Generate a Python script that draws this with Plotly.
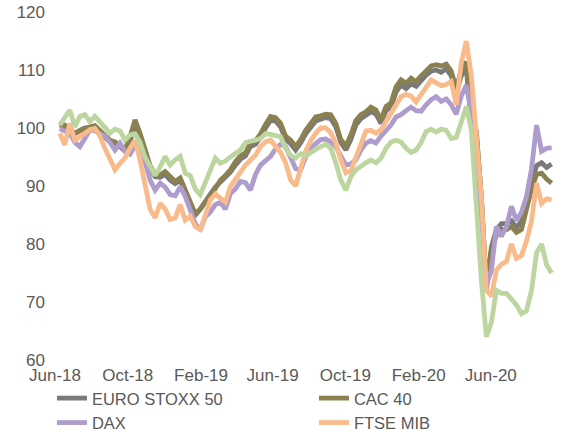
import pandas as pd
import plotly.graph_objects as go

# ---- data ----
dates = pd.date_range("2018-06-09", "2020-09-11", periods=99)

euro_stoxx_50 = [
    100.0, 100.2, 99.6, 99.0, 99.6, 100.0, 100.0, 100.0, 99.2, 98.4,
    97.6, 97.2, 96.8, 96.0, 97.8, 100.2, 98.6, 95.6, 93.0, 91.6,
    91.5, 92.0, 91.0, 90.4, 91.0, 89.0, 87.0, 85.0, 86.0, 87.5,
    88.6, 89.8, 90.6, 91.4, 92.4, 93.6, 94.6, 95.2, 96.8, 97.2,
    98.4, 100.0, 101.3, 101.2, 100.2, 98.0, 97.3, 96.2, 97.4, 99.0,
    100.0, 101.2, 101.5, 101.8, 101.6, 100.2, 97.5, 96.2, 98.0, 100.5,
    101.6, 102.1, 102.8, 102.4, 100.8, 103.0, 103.6, 106.2, 107.4, 106.8,
    107.6, 107.2, 108.2, 109.1, 109.8, 110.0, 109.6, 110.2, 109.0, 106.0,
    109.0, 110.3, 101.0, 99.0, 88.0, 72.5, 79.5, 82.5, 83.5, 83.5,
    84.0, 82.8, 84.0, 87.5, 90.5, 93.5, 94.0, 93.2, 93.8,
]
cac_40 = [
    100.2, 100.5, 99.9, 99.1, 99.5, 99.9, 100.2, 100.4, 99.6, 98.8,
    97.9, 97.6, 97.0, 96.2, 98.5, 101.4, 99.1, 96.0, 93.5, 92.0,
    91.9, 92.5, 91.5, 90.8, 91.4, 89.3, 87.2, 85.2, 86.0, 87.3,
    88.2, 89.8, 91.0, 91.8, 92.8, 94.2, 95.2, 95.7, 97.4, 97.8,
    99.0, 100.6, 102.0, 101.8, 100.8, 98.6, 97.9, 96.8, 98.0, 99.6,
    100.6, 101.9, 102.1, 102.4, 102.3, 100.8, 98.0, 96.9, 98.8, 101.3,
    102.3, 102.8, 103.6, 103.1, 101.4, 103.7, 104.3, 107.1, 108.3, 107.7,
    108.6, 108.0, 109.0, 110.0, 110.7, 110.9, 110.7, 111.0, 109.8, 106.8,
    110.0, 111.4, 101.5, 99.5, 88.2, 72.1, 79.0, 81.5, 82.5, 82.5,
    83.0, 82.0, 82.5, 86.0, 89.5, 92.0, 92.2, 91.2, 90.5,
]
dax = [
    99.9, 99.5, 99.1, 97.5, 96.8, 98.2, 99.7, 99.5, 99.1, 98.6,
    97.5, 96.2, 97.4, 96.0, 95.5, 97.0, 97.4, 94.5, 91.0, 89.3,
    90.5, 89.8, 88.5, 88.3, 89.9, 88.2, 85.9, 83.5, 82.4, 84.7,
    85.5, 86.8, 87.2, 86.0, 88.7, 89.5, 90.8, 90.6, 89.3, 92.0,
    93.6, 94.4, 95.1, 96.4, 97.2, 96.8, 95.1, 93.0, 92.8, 95.0,
    96.6, 97.4, 98.0, 98.1, 97.6, 96.8, 95.0, 93.6, 93.8, 94.5,
    96.2, 97.4, 97.8, 97.4, 98.6, 99.6, 100.5, 101.9, 102.3, 103.0,
    103.6, 103.0, 102.9, 104.0, 104.9, 105.4, 104.6, 105.0, 104.0, 102.4,
    105.5, 107.4, 102.5, 93.5, 84.7, 73.0, 75.5, 83.0, 81.3, 83.0,
    86.5, 84.0, 85.5, 88.2, 93.0, 100.5, 96.0, 96.5, 96.6,
]
ftse_mib = [
    99.1, 97.1, 100.8, 97.9, 98.5, 99.2, 99.7, 99.9, 98.6, 96.5,
    94.5, 92.8, 93.9, 94.8, 96.5, 97.9, 94.5, 90.0, 86.0, 84.5,
    87.0, 86.0, 84.2, 84.5, 86.8, 84.1, 84.8, 83.0, 82.5, 85.0,
    87.6, 88.6, 88.0, 87.2, 89.9, 91.2, 92.6, 93.6, 94.5, 95.3,
    96.8, 97.6, 97.9, 96.8, 95.8, 94.0, 91.0, 90.0, 93.0, 96.0,
    97.8, 99.1, 100.0, 100.0, 99.2, 97.4, 94.5, 92.3, 92.6, 94.8,
    97.4, 99.5, 99.6, 99.1, 99.7, 101.2, 102.6, 104.0, 105.4, 105.8,
    105.5, 104.5, 105.6, 107.0, 108.3, 107.9, 107.3, 107.5, 108.0, 104.0,
    111.2, 115.0, 109.0, 98.5, 88.2, 72.0, 71.0, 75.5, 76.5, 77.0,
    80.0, 77.5, 78.0, 80.5, 84.0, 90.5, 87.0, 87.8, 87.6,
]
ibex_35 = [
    100.5, 102.0, 103.1, 100.2, 102.0, 102.3, 101.1, 102.0, 101.0, 100.0,
    99.1, 99.8, 99.5, 97.9, 98.8, 99.0, 97.5, 95.0, 93.5, 91.8,
    93.3, 95.1, 93.6, 94.5, 95.1, 92.2, 91.8, 89.5, 88.5, 90.5,
    93.0, 94.8, 93.9, 94.3, 95.0, 95.5, 96.2, 97.5, 97.6, 97.9,
    98.2, 99.0, 98.9, 98.6, 98.5, 96.5, 95.3, 94.8, 95.6, 95.2,
    95.8, 96.2, 96.8, 97.2, 96.5, 94.0, 91.0, 89.3, 91.6, 92.8,
    93.5, 94.0, 94.5, 94.0, 94.8, 96.5, 97.6, 97.9, 97.6, 96.5,
    95.8, 96.2, 97.5, 99.4, 99.8, 99.3, 99.8, 99.6, 98.2, 98.4,
    101.0, 103.7, 99.7, 86.5, 73.8, 64.0, 66.5, 72.0, 71.5, 71.5,
    70.5, 69.5, 68.0, 68.5, 72.0, 78.5, 80.0, 76.4, 75.0,
]

series_names = ["EURO STOXX 50", "CAC 40", "DAX", "FTSE MIB", "IBEX 35"]
series_values = [euro_stoxx_50, cac_40, dax, ftse_mib, ibex_35]
series_colors = ["#7a7a7a", "#8a8050", "#ae9ccd", "#f9bb8b", "#bdd6a0"]

y_ticks = [60, 70, 80, 90, 100, 110, 120]
x_tick_labels = ["Jun-18", "Oct-18", "Feb-19", "Jun-19", "Oct-19", "Feb-20", "Jun-20"]
x_tick_dates = ["2018-06-01", "2018-10-01", "2019-02-01", "2019-06-01",
                "2019-10-01", "2020-02-01", "2020-06-01"]

fig = go.Figure()
for name, vals, col in zip(series_names, series_values, series_colors):
    fig.add_trace(go.Scatter(
        x=dates, y=vals, name=name, mode="lines",
        line=dict(color=col, width=4.8),
    ))

font_family = "Liberation Sans, Arial, sans-serif"
fig.update_layout(
    width=563, height=435,
    margin=dict(l=52, r=9, t=12, b=75, autoexpand=False),
    plot_bgcolor="white", paper_bgcolor="white",
    font=dict(family=font_family, size=17, color="#595959"),
    showlegend=True,
    legend=dict(
        orientation="h", x=-0.0001, xanchor="left", y=-0.06, yanchor="top",
        entrywidth=217, entrywidthmode="pixels",
        font=dict(family=font_family, size=16.5, color="#595959"),
        tracegroupgap=0, itemclick=False,
    ),
    xaxis=dict(
        type="date", range=["2018-05-27", "2020-09-15"],
        tickvals=x_tick_dates, ticktext=x_tick_labels,
        showgrid=False, zeroline=False, showline=False, ticks="",
        tickfont=dict(size=17, color="#595959"),
        ticklabelstandoff=3,
    ),
    yaxis=dict(
        range=[60, 120], tickvals=y_ticks,
        showgrid=False, zeroline=False, showline=False, ticks="",
        tickfont=dict(size=17, color="#595959"),
        ticklabelstandoff=6,
    ),
)

fig.write_html("out.html", config={"displayModeBar": False},
               post_script="document.body.style.margin='0px';")
